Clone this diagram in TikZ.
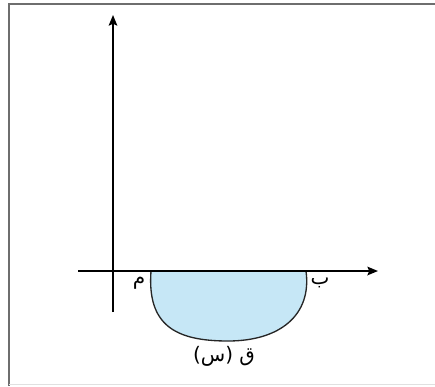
\documentclass[tikz,border=0pt]{standalone}
\usepackage{fontspec}
\usepackage{xcolor}
\usetikzlibrary{arrows.meta}
\newfontfamily\arabicfont[Script=Arabic]{DejaVu Sans}
\TeXXeTstate=1
\definecolor{regionblue}{HTML}{C6E7F6}
\definecolor{framegray}{HTML}{6E6E6E}

\begin{document}
\begin{tikzpicture}[
  x=0.75pt,y=-0.75pt,
  axis/.style={line width=1.3pt,black},
  region/.style={draw=black!85,line width=1pt,fill=regionblue},
  lbl/.style={font=\arabicfont\fontsize{15}{17}\selectfont,inner sep=1pt},
  >={Stealth[length=8pt,width=6.5pt,inset=1.5pt]}]
\useasboundingbox (0,0) rectangle (435,386);
% frame
\draw[framegray,line width=1.6pt] (9,386) -- (9,4) -- (435,4);
\draw[black!12,line width=0.8pt] (9,384.5) -- (435,384.5);
% axes
\coordinate (xs) at (78,271); \coordinate (xe) at (378,271);
\coordinate (ys) at (113,312); \coordinate (ye) at (113,15);
% region under the x axis
\coordinate (a) at (151,271); \coordinate (b) at (306,271);
\coordinate (low) at (228,341);
\draw[region] (a) .. controls (147,325) and (175,341) .. (low)
  .. controls (280,341) and (312,315) .. (b) -- cycle;
\draw[axis,->] (xs) -- (xe);
\draw[axis,->] (ys) -- (ye);
% labels
\node[lbl] (la) at (139,283) {\beginR م\endR};
\node[lbl] (lb) at (320,283) {\beginR ب\endR};
\node[lbl] (lq) at (224,356) {\beginR ق (س)\endR};
\end{tikzpicture}
\end{document}
